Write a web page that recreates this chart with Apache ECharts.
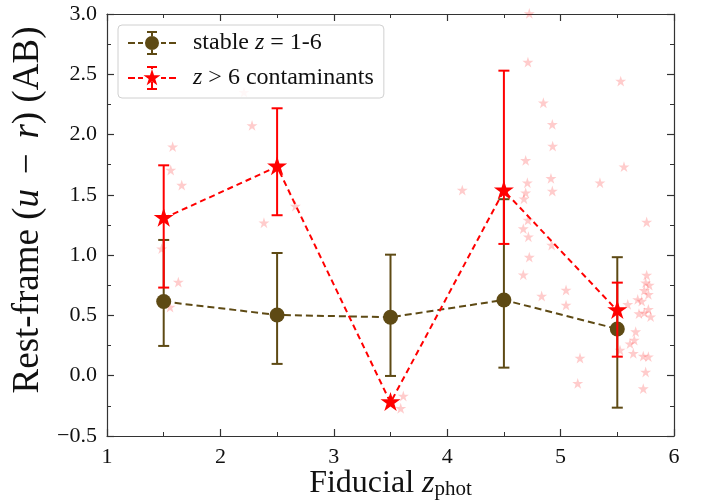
<!DOCTYPE html>
<html>
<head>
<meta charset="utf-8">
<script src="https://cdn.jsdelivr.net/npm/echarts@6/dist/echarts.min.js"></script>
<style>html,body{margin:0;padding:0;background:#fff}#c{width:707px;height:502px}</style>
</head>
<body>
<div id="c"></div>
<script>
// ---- data ----
const binX = [1.5, 2.5, 3.5, 4.5, 5.5];
const stableY = [0.615, 0.504, 0.485, 0.628, 0.388];
const stableLo = [0.247, 0.098, -0.002, 0.067, -0.265];
const stableHi = [1.126, 1.018, 1.004, 1.464, 0.983];
const contamY = [1.306, 1.734, -0.223, 1.535, 0.540];
const contamLo = [0.731, 1.331, -0.223, 1.093, 0.158];
const contamHi = [1.745, 2.218, -0.223, 2.530, 0.772];
const indivX = [1.579, 1.562, 1.659, 1.482, 1.629, 1.556,
  2.208, 2.279, 2.661, 2.384,
  3.613, 3.590,
  4.724, 4.712, 4.848, 4.927, 4.930, 4.692, 4.133, 4.707, 4.915, 4.927, 4.692, 4.677,
  4.712, 4.671, 4.716, 4.921, 4.724, 4.671, 4.833, 5.048, 5.048,
  5.171, 5.151, 5.530, 5.559, 5.347,
  5.759, 5.759, 5.750, 5.782, 5.738, 5.774, 5.680, 5.715, 5.592, 5.691, 5.738, 5.774,
  5.794, 5.662, 5.650, 5.612, 5.524, 5.641, 5.729, 5.774, 5.750, 5.729];
const indivY = [1.895, 1.701, 1.576, 1.049, 0.772, 0.565,
  2.347, 2.071, 1.402, 1.264,
  -0.173, -0.275,
  3.000, 2.596, 2.259, 2.080, 1.900, 1.781, 1.535, 1.596, 1.632, 1.527, 1.513, 1.463,
  1.286, 1.215, 1.148, 1.079, 0.979, 0.833, 0.656, 0.706, 0.581,
  0.142, -0.068, 2.439, 1.729, 1.596,
  1.270, 0.830, 0.767, 0.747, 0.703, 0.670, 0.628, 0.614, 0.587, 0.510, 0.518, 0.546,
  0.485, 0.361, 0.291, 0.261, 0.208, 0.181, 0.158, 0.153, 0.026, -0.112];
const xTicks = [1, 2, 3, 4, 5, 6];
const yTicks = [-0.5, 0, 0.5, 1, 1.5, 2, 2.5, 3];

// ---- styles ----
const BROWN = '#5e4a14';
const RED = '#ff0000';
const FONT = 'Liberation Serif';
const STAR = 'path://M0,-1 L0.2245,-0.309 L0.951,-0.309 L0.363,0.118 L0.588,0.809 L0,0.382 L-0.588,0.809 L-0.363,0.118 L-0.951,-0.309 L-0.2245,-0.309 Z M0,1 L0.0001,1 L0,1 Z';
const brownIcon = 'path://M0 11 H7 V13 H0 Z M10 11 H15 V13 H10 Z M33 11 H38 V13 H33 Z M41 11 H48 V13 H41 Z M23 2 H25 V5 H23 Z M19 0 H29 V2 H19 Z M23 19 H25 V22 H23 Z M19 22 H29 V24 H19 Z M31 12 A7 7 0 1 1 17 12 A7 7 0 1 1 31 12 Z';
const redIcon = 'path://M0 11 H7 V13 H0 Z M10 11 H15 V13 H10 Z M33 11 H38 V13 H33 Z M41 11 H48 V13 H41 Z M23 2 H25 V3 H23 Z M19 0 H29 V2 H19 Z M23 16 H25 V22 H23 Z M19 22 H29 V24 H19 Z M24 3 L26.02 9.22 L32.56 9.22 L27.27 13.06 L29.29 19.28 L24 15.44 L18.71 19.28 L20.73 13.06 L15.44 9.22 L21.98 9.22 Z';

function errRender(color) {
  return function (params, api) {
    const x = api.value(0), lo = api.value(1), hi = api.value(2);
    if (lo === hi) return null;
    const a = api.coord([x, lo]), b = api.coord([x, hi]);
    const w = 5.5;
    const st = { stroke: color, lineWidth: 2 };
    return {
      type: 'group',
      children: [
        { type: 'line', shape: { x1: a[0], y1: a[1], x2: b[0], y2: b[1] }, style: st },
        { type: 'line', shape: { x1: a[0] - w, y1: a[1], x2: a[0] + w, y2: a[1] }, style: st },
        { type: 'line', shape: { x1: b[0] - w, y1: b[1], x2: b[0] + w, y2: b[1] }, style: st }
      ]
    };
  };
}

const tickCommon = {
  axisLine: { show: true, onZero: false, lineStyle: { color: '#333', width: 1.2 } },
  axisTick: { show: true, inside: true, length: 7, lineStyle: { color: '#333', width: 1.2 } },
  minorTick: { show: true, splitNumber: 2, length: 4, lineStyle: { color: '#333', width: 1 } },
  splitLine: { show: false }
};

const chart = echarts.init(document.getElementById('c'), null, { renderer: 'canvas' });
chart.setOption({
  animation: false,
  backgroundColor: '#fff',
  grid: { left: 107, right: 33, top: 14, bottom: 66, containLabel: false, outerBoundsMode: 'none' },
  legend: {
    left: 118, top: 25, orient: 'vertical',
    padding: [6, 10, 8, 10], itemGap: 11,
    itemWidth: 48, itemHeight: 24,
    backgroundColor: 'rgba(255,255,255,0.85)',
    borderColor: '#d0d0d0', borderWidth: 1, borderRadius: 4,
    data: [
      { name: 'stable', icon: brownIcon, itemStyle: { color: BROWN } },
      { name: 'contam', icon: redIcon, itemStyle: { color: RED } }
    ],
    formatter: function (n) {
      return n === 'stable' ? 'stable {i|z} = 1-6' : '{i|z} > 6 contaminants';
    },
    textStyle: {
      fontFamily: FONT, fontSize: 24, color: '#111', padding: [0, 0, 0, 12],
      rich: { i: { fontFamily: FONT, fontSize: 24, fontStyle: 'italic', color: '#111' } }
    },
    z: 10
  },
  xAxis: [{
    type: 'value', min: 1, max: 6, interval: 1, position: 'bottom',
    ...tickCommon,
    axisLabel: { show: true, margin: 10, fontFamily: FONT, fontSize: 22, color: '#111',
      formatter: v => xTicks.includes(v) ? String(v) : '' },
    name: 'Fiducial {i|z}{s|phot}', nameLocation: 'middle', nameGap: 31, nameMoveOverlap: false,
    nameTextStyle: { fontFamily: FONT, fontSize: 32, color: '#111',
      rich: { i: { fontFamily: FONT, fontSize: 32, fontStyle: 'italic', color: '#111' },
              s: { fontFamily: FONT, fontSize: 21, color: '#111', padding: [12, 0, 0, 0] } } }
  }, {
    type: 'value', min: 1, max: 6, interval: 1, position: 'top',
    ...tickCommon, axisLabel: { show: false }
  }],
  yAxis: [{
    type: 'value', min: -0.5, max: 3, interval: 0.5, position: 'left',
    ...tickCommon,
    axisLabel: { show: true, margin: 10, fontFamily: FONT, fontSize: 22, color: '#111',
      formatter: v => (v < 0 ? '\u2212' + Math.abs(v).toFixed(1) : v.toFixed(1)) },
    name: 'Rest-frame ({i|u}\u2009\u2009\u2212\u2009\u2009{i|r}) (AB)', nameLocation: 'middle', nameGap: 60, nameMoveOverlap: false,
    nameTextStyle: { fontFamily: FONT, fontSize: 37, color: '#111', padding: [0, 0, 0, 30],
      rich: { i: { fontFamily: FONT, fontSize: 37, fontStyle: 'italic', color: '#111' } } }
  }, {
    type: 'value', min: -0.5, max: 3, interval: 0.5, position: 'right',
    ...tickCommon, axisLabel: { show: false }
  }],
  series: [
    {
      name: 'indiv', type: 'scatter', symbol: STAR, symbolSize: [11, 12],
      itemStyle: { color: 'rgba(255,0,0,0.25)' }, z: 1, silent: true,
      data: indivX.map((x, i) => [x, indivY[i]])
    },
    {
      name: 'stableErr', type: 'custom', renderItem: errRender(BROWN), z: 2,
      data: binX.map((x, i) => [x, stableLo[i], stableHi[i]])
    },
    {
      name: 'stable', type: 'line', symbol: 'circle', symbolSize: 15, z: 3,
      itemStyle: { color: BROWN },
      lineStyle: { color: BROWN, width: 2, type: [7, 4] },
      data: binX.map((x, i) => [x, stableY[i]])
    },
    {
      name: 'contamErr', type: 'custom', renderItem: errRender(RED), z: 4,
      data: binX.map((x, i) => [x, contamLo[i], contamHi[i]])
    },
    {
      name: 'contam', type: 'line', symbol: STAR, symbolSize: [20, 21], z: 5,
      itemStyle: { color: RED },
      lineStyle: { color: RED, width: 2, type: [6, 4] },
      data: binX.map((x, i) => [x, contamY[i]])
    }
  ]
});
</script>
</body>
</html>
